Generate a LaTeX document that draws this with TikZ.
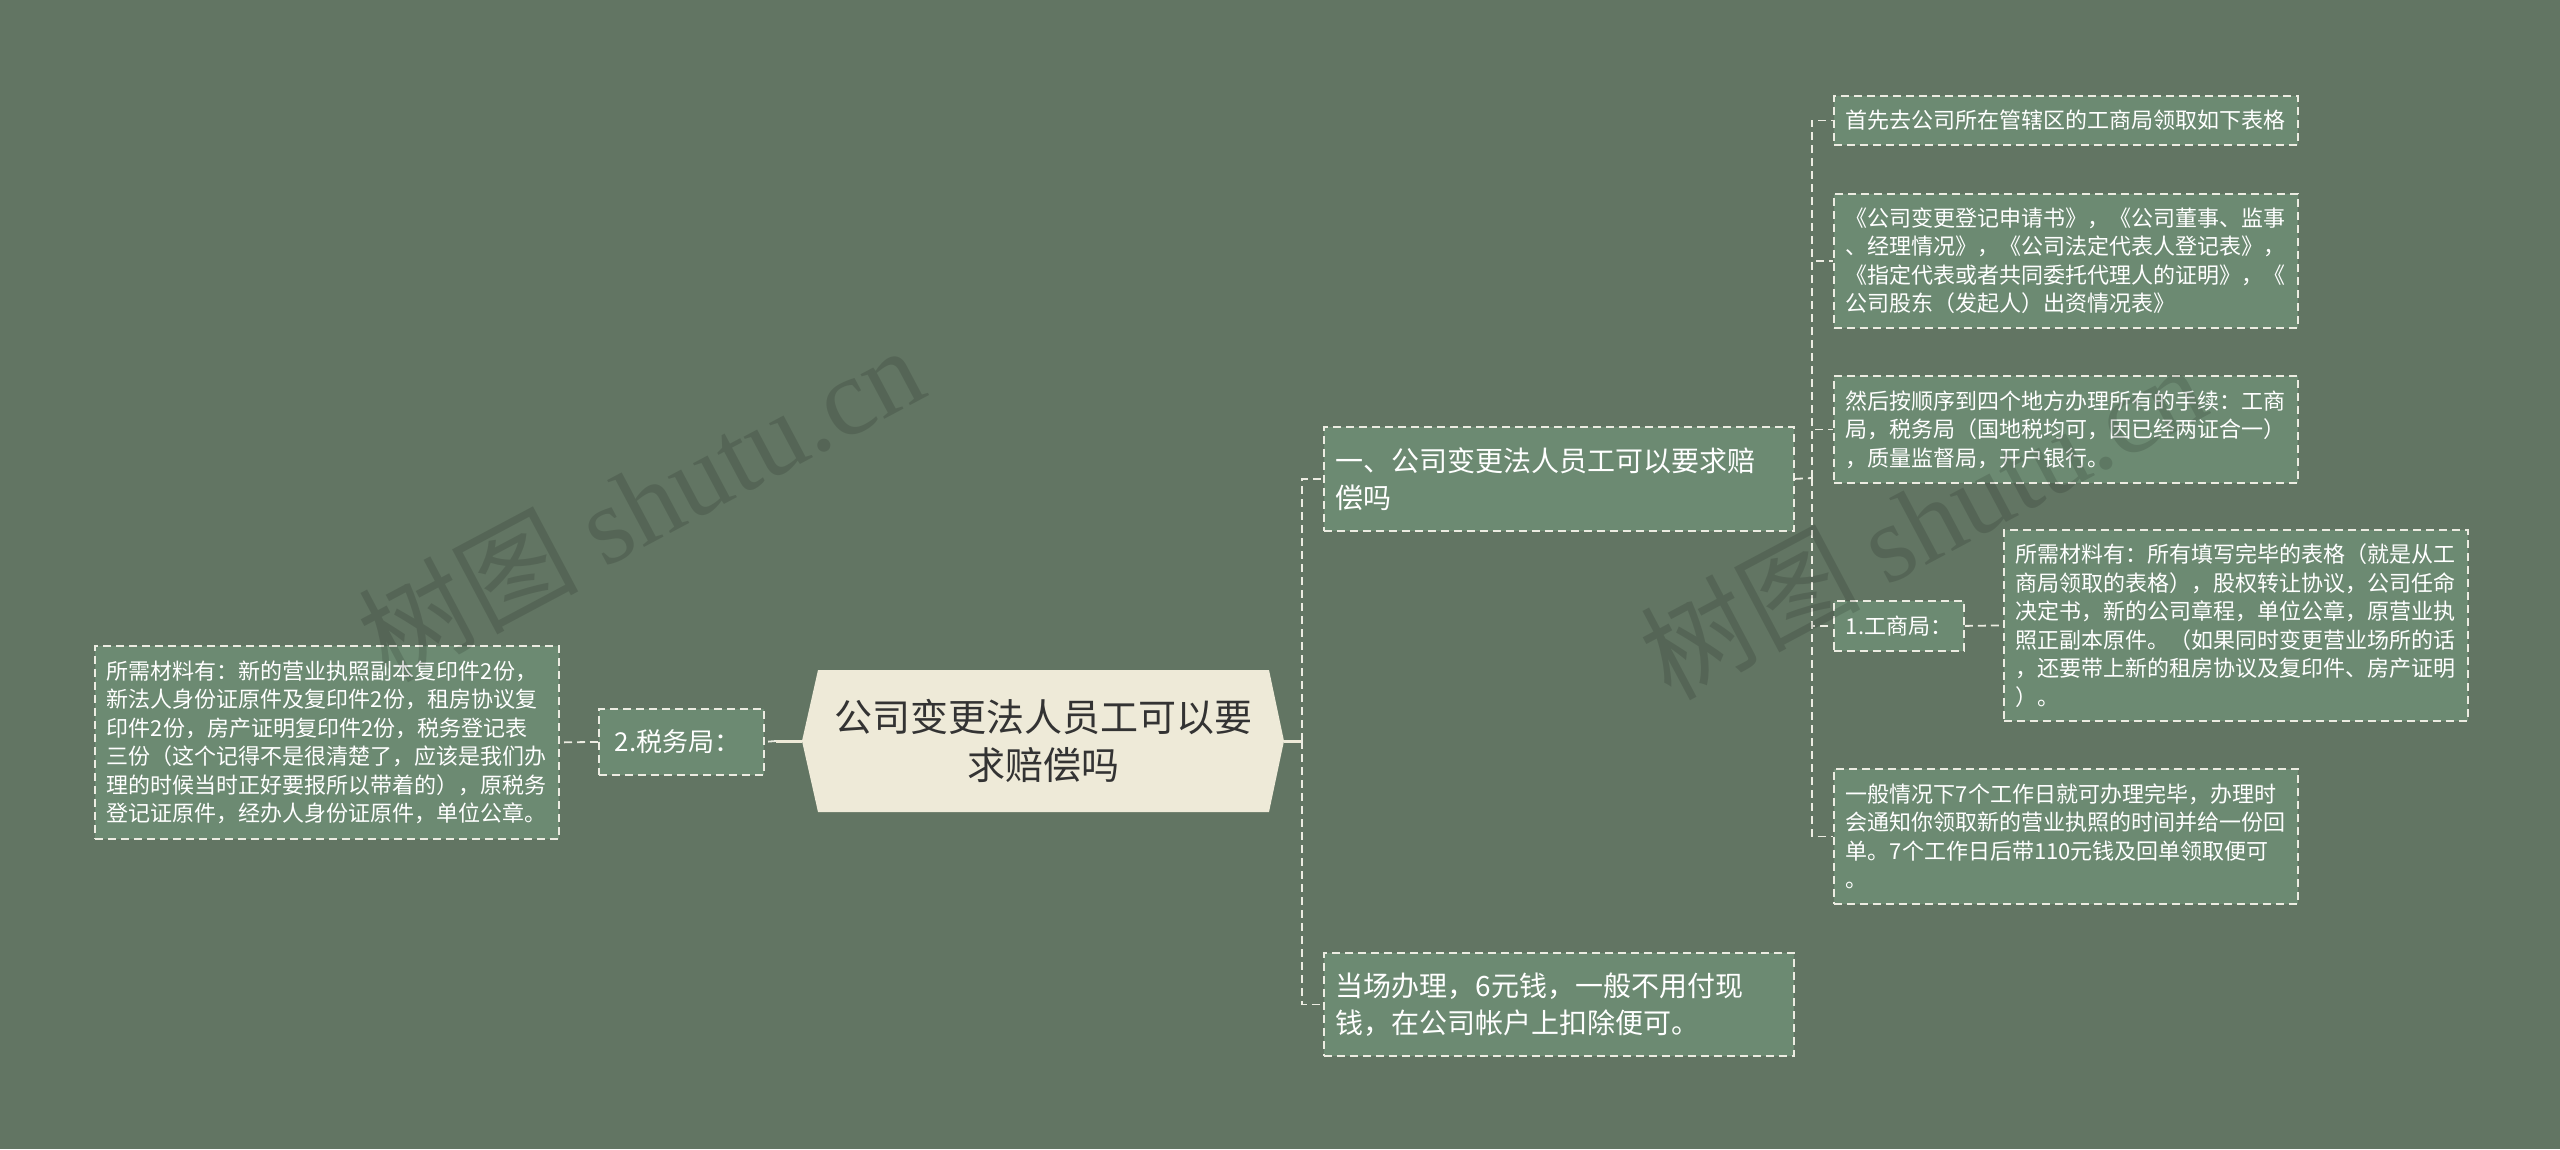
\documentclass[tikz,border=0pt]{standalone}
\usepackage{fontspec}
\setmainfont{Noto Sans CJK SC}
\newfontfamily\wmserif{Liberation Serif}
\definecolor{bgc}{RGB}{98,117,99}
\definecolor{boxc}{RGB}{108,138,114}
\definecolor{linec}{RGB}{236,236,226}
\definecolor{rootc}{RGB}{238,234,216}
\definecolor{roottxt}{RGB}{51,51,51}
\tikzset{
  box/.style={draw=linec, line width=1.8pt, dash pattern=on 8pt off 5pt, fill=boxc, text=white,
    inner xsep=12pt, inner ysep=0pt, anchor=north west, align=left, font=\fontsize{22}{28.5}\selectfont},
  bigbox/.style={box, font=\fontsize{28}{37}\selectfont},
  conn/.style={draw=linec, line width=1.8pt, dash pattern=on 8pt off 5pt},
  rootconn/.style={draw=rootc, line width=3pt},
  roottext/.style={text=roottxt, align=center, font=\fontsize{38}{48}\selectfont},
  wm/.style={text=black, opacity=0.13, rotate=28, font=\fontsize{110}{110}\selectfont}
}
\begin{document}
\begin{tikzpicture}[x=1pt,y=-1pt]
\fill[bgc] (0,0) rectangle (2560,1149);
\useasboundingbox (0,0) rectangle (2560,1149);

% root
\coordinate (rootL) at (802,741);
\coordinate (rootR) at (1284,741);
\fill[rootc] (rootL) -- (818,670) -- (1269,670) -- (rootR) -- (1269,812) -- (818,812) -- cycle;
\node[roottext] (root) at (1043.5,741) {公司变更法人员工可以要\\求赔偿吗};

% right level 1
\node[bigbox, text width=446pt, minimum height=104pt] (n1) at (1323,426) {一、公司变更法人员工可以要求赔\\偿吗};
\node[bigbox, text width=446pt, minimum height=103pt] (n2) at (1323,952) {当场办理，6元钱，一般不用付现\\钱，在公司帐户上扣除便可。};

% right level 2
\node[box, text width=440pt, minimum height=49pt] (c1) at (1833,95) {首先去公司所在管辖区的工商局领取如下表格};
\node[box, text width=440pt, minimum height=134pt] (c2) at (1833,193) {《公司变更登记申请书》，《公司董事、监事\\、经理情况》，《公司法定代表人登记表》，\\《指定代表或者共同委托代理人的证明》，《\\公司股东（发起人）出资情况表》};
\node[box, text width=440pt, minimum height=107pt] (c3) at (1833,375) {然后按顺序到四个地方办理所有的手续：工商\\局，税务局（国地税均可，因已经两证合一）\\，质量监督局，开户银行。};
\node[box, text width=106pt, minimum height=50pt] (c4) at (1833,600) {1.工商局：};
\node[box, text width=440pt, minimum height=191pt] (c4a) at (2003,529) {所需材料有：所有填写完毕的表格（就是从工\\商局领取的表格），股权转让协议，公司任命\\决定书，新的公司章程，单位公章，原营业执\\照正副本原件。（如果同时变更营业场所的话\\，还要带上新的租房协议及复印件、房产证明\\）。};
\node[box, text width=440pt, minimum height=135pt] (c5) at (1833,768) {一般情况下7个工作日就可办理完毕，办理时\\会通知你领取新的营业执照的时间并给一份回\\单。7个工作日后带110元钱及回单领取便可\\。};

% left
\node[box, text width=133pt, minimum height=66pt, inner xsep=16pt, font=\fontsize{26}{30}\selectfont] (l1) at (598,708) {2.税务局：};
\node[box, text width=440pt, minimum height=193pt] (l1a) at (94,645) {所需材料有：新的营业执照副本复印件2份，\\新法人身份证原件及复印件2份，租房协议复\\印件2份，房产证明复印件2份，税务登记表\\三份（这个记得不是很清楚了，应该是我们办\\理的时候当时正好要报所以带着的），原税务\\登记证原件，经办人身份证原件，单位公章。};

% connectors
\coordinate (jR) at (1302,741);
\coordinate (jL) at (776,741);
\coordinate (jA) at (1812,478);
\draw[rootconn] (rootR) -- (jR);
\draw[conn] (jR) |- (n1.west);
\draw[conn] (jR) |- (n2.west);
\draw[rootconn] (rootL) -- (jL);
\draw[conn] (jL) -- (l1.east);
\draw[conn] (l1.west) -- (l1a.east);
\draw[conn] (n1.east) -- (jA);
\draw[conn] (jA) |- (c1.west);
\draw[conn] (jA) |- (c2.west);
\draw[conn] (jA) |- (c3.west);
\draw[conn] (jA) |- (c4.west);
\draw[conn] (jA) |- (c5.west);
\draw[conn] (c4.east) -- (c4a.west);

% watermarks
\node[wm] (wm1) at (640,502) {树图 {\wmserif shutu.cn}};
\node[wm] (wm2) at (1922,520) {树图 {\wmserif shutu.cn}};
\end{tikzpicture}
\end{document}
